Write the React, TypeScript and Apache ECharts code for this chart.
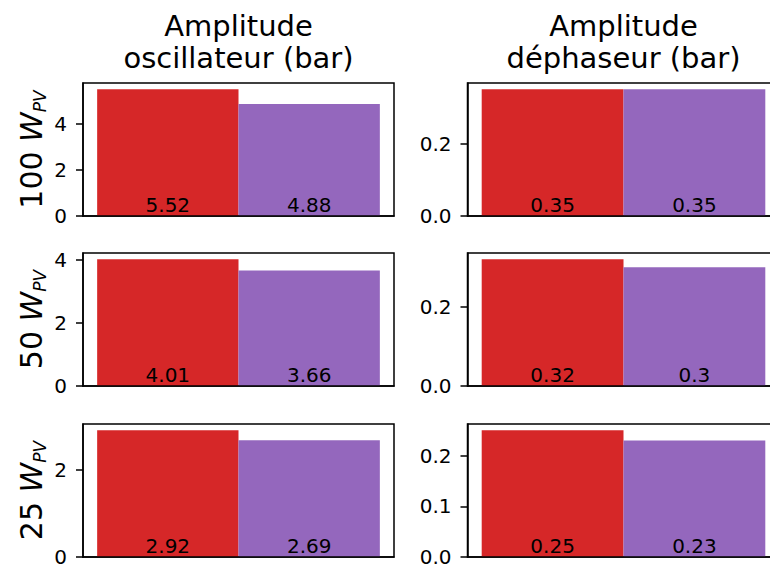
import React, { useEffect, useRef } from 'react';
import * as echarts from 'echarts';

// ---- Data ----
const columnTitles = ['Amplitude\noscillateur (bar)', 'Amplitude\ndéphaseur (bar)'];
const rowPowers = ['100', '50', '25'];
const seriesNames = ['Cas 1', 'Cas 2'];
const seriesColors = ['#d62728', '#9467bd'];

const oscFirst = [5.52, 4.01, 2.92];
const oscSecond = [4.88, 3.66, 2.69];
const dephFirst = [0.35, 0.32, 0.25];
const dephSecond = [0.35, 0.3, 0.23];

const oscTicks = [[0, 2, 4], [0, 2, 4], [0, 2]];
const dephTicks = [[0, 0.2], [0, 0.2], [0, 0.1, 0.2]];

// ---- Layout ----
const rowTops = [83, 253, 424];
const rowHeight = 133;
const colLefts = [83, 467.5];
const colWidths = [311, 312];
const FONT = 'DejaVu Sans';

export default function App() {
  const ref = useRef<HTMLDivElement>(null);

  useEffect(() => {
    if (!ref.current) return;
    const chart = echarts.init(ref.current, undefined, { renderer: 'svg' });

    const grids: any[] = [];
    const xAxes: any[] = [];
    const yAxes: any[] = [];
    const series: any[] = [];

    const cols = [
      { first: oscFirst, second: oscSecond, ticks: oscTicks, fmt: (v: number) => String(v) },
      { first: dephFirst, second: dephSecond, ticks: dephTicks, fmt: (v: number) => v.toFixed(1) },
    ];

    let k = 0;
    for (let r = 0; r < 3; r++) {
      for (let c = 0; c < 2; c++) {
        const col = cols[c];
        const vals = [col.first[r], col.second[r]];
        const ymax = Math.max(...vals) * 1.05;
        grids.push({
          left: colLefts[c],
          top: rowTops[r],
          width: colWidths[c],
          height: rowHeight,
          show: true,
          borderColor: '#000',
          borderWidth: 1.5,
          backgroundColor: 'transparent',
          containLabel: false,
          outerBoundsMode: 'none',
        });
        xAxes.push({
          type: 'category',
          gridIndex: k,
          data: [''],
          z: 5,
          axisLine: { show: true, lineStyle: { color: '#000', width: 1.5 } },
          axisTick: { show: false },
          axisLabel: { show: false },
          splitLine: { show: false },
        });
        yAxes.push({
          type: 'value',
          gridIndex: k,
          min: 0,
          max: ymax,
          z: 5,
          axisLine: { show: true, lineStyle: { color: '#000', width: 1.5 } },
          axisTick: {
            show: true,
            length: 7,
            lineStyle: { color: '#000', width: 1.5 },
            customValues: col.ticks[r],
          },
          axisLabel: {
            show: true,
            customValues: col.ticks[r],
            formatter: (v: number) => col.fmt(v),
            fontSize: 20,
            fontFamily: FONT,
            color: '#000',
            margin: 16,
          },
          splitLine: { show: false },
        });
        for (let s = 0; s < 2; s++) {
          series.push({
            type: 'bar',
            name: seriesNames[s],
            xAxisIndex: k,
            yAxisIndex: k,
            data: [vals[s]],
            barWidth: '45.45%',
            barGap: '0%',
            itemStyle: { color: seriesColors[s] },
            label: {
              show: true,
              position: 'insideBottom',
              distance: 1,
              formatter: '{c}',
              fontSize: 20,
              lineHeight: 20,
              fontFamily: FONT,
              color: '#000',
            },
          });
        }
        k++;
      }
    }

    const titles = columnTitles.map((t, c) => ({
      text: t,
      left: colLefts[c] + colWidths[c] / 2,
      top: 10,
      padding: 0,
      textAlign: 'center',
      textStyle: {
        fontSize: 29,
        lineHeight: 32,
        fontWeight: 'normal',
        fontFamily: FONT,
        color: '#000',
      },
    }));

    const graphics = rowPowers.map((p, r) => ({
      type: 'text',
      x: 31,
      y: rowTops[r] + rowHeight / 2,
      rotation: Math.PI / 2,
      style: {
        text: `{n|${p} }{i|W}{s|PV}`,
        align: 'center',
        verticalAlign: 'middle',
        fill: '#000',
        rich: {
          n: { fontSize: 30, lineHeight: 34, fontFamily: FONT, fill: '#000' },
          i: { fontSize: 30, lineHeight: 34, fontFamily: FONT, fontStyle: 'italic', fill: '#000' },
          s: {
            fontSize: 17,
            lineHeight: 17,
            fontFamily: FONT,
            fontStyle: 'italic',
            fill: '#000',
            verticalAlign: 'bottom',
          },
        },
      },
    }));

    chart.setOption({
      animation: false,
      backgroundColor: '#fff',
      title: titles,
      grid: grids,
      xAxis: xAxes,
      yAxis: yAxes,
      series,
      graphic: graphics,
    });

    return () => chart.dispose();
  }, []);

  return (
    <div
      ref={ref}
      style={{ position: 'absolute', left: 0, top: 0, width: 770, height: 567 }}
    />
  );
}
